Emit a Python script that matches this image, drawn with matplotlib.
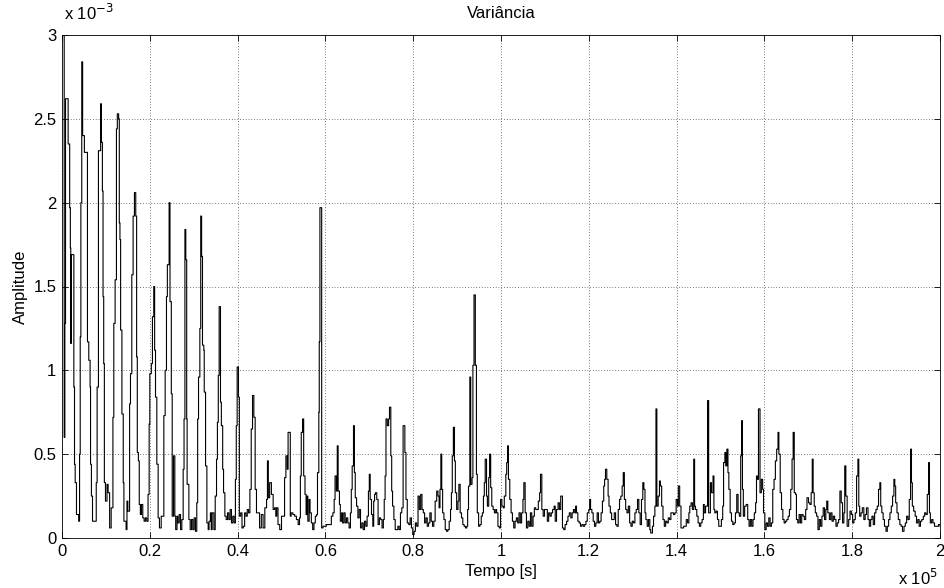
import numpy as np
import matplotlib.pyplot as plt

plt.rcParams['font.family'] = ['Liberation Sans', 'DejaVu Sans']
plt.rcParams['font.size'] = 12

# tempo em kilo-segundos, variancia em unidades de 1e-3
tempo_ks = [
    0.0, 0.5, 0.65, 0.8, 1.25, 1.4, 1.75, 1.9, 2.0, 2.1, 2.4, 2.7, 2.85, 3.0, 3.3, 3.6, 3.8,
    4.0, 4.15, 4.3, 4.5, 4.7, 4.95, 5.1, 5.8, 6.1, 6.4, 6.5, 6.7, 6.95, 7.45, 7.8,
    8.0, 8.3, 8.8, 8.95, 9.2, 9.35, 9.5, 9.65, 9.9, 10.25, 10.5, 10.85, 11.2, 11.6,
    11.8, 12.1, 12.4, 12.6, 12.9, 13.05, 13.2, 13.35, 13.65, 13.95, 14.1, 14.6, 14.8,
    15.0, 15.4, 15.6, 15.9, 16.2, 16.5, 16.8, 17.0, 17.15, 17.4, 17.6, 17.85, 18.1,
    18.4, 18.7, 19.0, 19.3, 19.6, 19.85, 20.0, 20.35, 20.6, 20.9, 21.1, 21.3, 21.6,
    21.9, 22.2,
    22.6, 23.0, 23.2, 23.5, 23.8, 24.0, 24.4, 24.6, 24.9, 25.1, 25.4, 25.7, 25.9, 26.2,
    26.4, 26.7, 27.0, 27.3, 27.6, 27.8, 28.0, 28.2, 28.4, 28.5, 28.9, 29.2, 29.5, 29.8,
    30.1, 30.4, 30.7, 30.9, 31.1, 31.4, 31.6, 31.8, 32.0, 32.3, 32.4, 32.7, 33.0, 33.3,
    33.5, 33.8, 34.0, 34.2, 34.6, 34.9, 35.2, 35.4, 35.6, 35.8, 36.1, 36.3, 36.6, 36.8,
    37.1, 37.4, 37.7, 38.0, 38.3, 38.6, 38.9, 39.2, 39.5, 39.7, 39.9, 40.2, 40.4, 40.7,
    41.0, 41.3, 41.6, 41.9, 42.2, 42.5, 42.8, 43.1, 43.4, 43.7, 44.0, 44.3,
    44.65, 45.0, 45.4, 45.8, 46.2, 46.6, 46.8, 47.0, 47.3, 47.7, 48.1, 48.4, 48.7, 48.9,
    49.2, 49.6, 50.0, 50.3, 50.7, 51.0, 51.3, 51.5, 51.7, 52.0, 52.2, 52.6, 53.0, 53.4,
    53.8, 54.1, 54.3, 54.5, 54.8, 55.05, 55.35, 55.6, 55.8, 56.0, 56.3, 56.5, 56.8, 57.1,
    57.4, 57.7, 58.0, 58.2, 58.5, 58.6, 58.75, 59.15, 59.45, 59.8, 60.2, 60.6, 61.0,
    61.35, 61.7, 62.0, 62.2, 62.5, 62.7, 62.9, 63.2, 63.4, 63.7, 63.9, 64.2, 64.5, 64.8,
    65.1, 65.4, 65.7, 65.9, 66.1, 66.4, 66.6, 66.8, 67.1, 67.4, 67.7, 68.0, 68.3, 68.6,
    68.9, 69.2, 69.5, 69.8, 70.0, 70.2, 70.5, 70.8, 71.0, 71.2, 71.4, 71.7, 72.0, 72.3,
    72.6, 72.9, 73.2, 73.4, 73.6, 73.8, 74.1, 74.4, 74.6, 74.9, 75.1, 75.3, 75.6, 75.9,
    76.2, 76.5, 76.8, 77.1, 77.4, 77.7, 77.9, 78.1, 78.35, 78.65, 79.0, 79.3, 79.6, 79.9,
    80.2, 80.5, 80.8,
    81.1, 81.4, 81.7, 82.0, 82.3, 82.6, 82.9, 83.2, 83.5, 83.8, 84.1, 84.4, 84.7, 85.0,
    85.35, 85.65, 85.9, 86.1, 86.3, 86.5, 86.7, 87.0, 87.3, 87.6, 87.9, 88.2, 88.5, 88.7,
    88.9, 89.15, 89.4, 89.6, 89.9, 90.2, 90.4, 90.7, 91.0, 91.3, 91.6, 91.9, 92.2, 92.4,
    92.6, 92.9, 93.1, 93.4, 93.6, 93.85, 94.15, 94.4, 94.6, 94.9, 95.2, 95.5, 95.75,
    96.0, 96.2, 96.4, 96.7, 96.9, 97.2, 97.4, 97.65, 97.9, 98.2, 98.5, 98.8, 99.0, 99.3,
    99.6, 99.9, 100.2, 100.5, 100.75, 101.1, 101.3, 101.5, 101.7, 102.0, 102.3, 102.6,
    102.9, 103.2, 103.5, 103.8, 104.1, 104.4, 104.7, 105.0, 105.2, 105.5, 105.8, 106.1,
    106.4, 106.7, 107.0, 107.3, 107.6, 107.9, 108.2, 108.5, 108.8, 109.0, 109.3, 109.6,
    109.9, 110.2, 110.55, 110.85, 111.15, 111.45, 111.75, 112.1, 112.35, 112.65, 113.0,
    113.3, 113.6, 113.8, 114.0, 114.3, 114.6, 114.95, 115.25, 115.55, 115.9, 116.2,
    116.5, 116.8, 117.0, 117.2, 117.5, 117.8, 118.1, 118.4, 118.75, 119.05, 119.35,
    119.65, 120.0, 120.2, 120.4, 120.7, 121.0, 121.3, 121.6, 121.9, 122.2, 122.5, 122.8,
    123.1, 123.4, 123.6, 123.8, 124.1, 124.4, 124.6, 124.9, 125.2, 125.5, 125.8, 126.1,
    126.4, 126.7, 127.0, 127.3, 127.6, 127.85, 128.1, 128.4, 128.7, 129.0, 129.3, 129.6,
    129.9, 130.2, 130.5, 130.8, 131.1, 131.4,
    131.7, 132.0, 132.3, 132.55, 132.8, 133.0, 133.3, 133.6, 133.9, 134.1, 134.5, 134.75,
    135.05, 135.3, 135.5, 135.8, 136.1, 136.3, 136.6, 136.9, 137.2, 137.5, 137.8, 138.1,
    138.4, 138.7, 139.0, 139.3, 139.6, 139.9, 140.2, 140.4, 140.7, 141.0, 141.3, 141.6,
    141.9, 142.2, 142.5, 142.8, 143.0, 143.3, 143.6, 143.9, 144.1, 144.3, 144.6, 144.9,
    145.2, 145.5, 145.8, 146.1, 146.3, 146.6, 146.8, 147.05, 147.3, 147.5, 147.7, 147.95,
    148.3, 148.5, 148.7, 149.0, 149.3, 149.6, 149.9, 150.2, 150.5, 150.7, 151.0, 151.2,
    151.45, 151.7, 151.9, 152.2, 152.5, 152.8, 153.1, 153.4, 153.7, 154.0, 154.3, 154.6,
    154.8, 155.0, 155.2, 155.5, 155.85, 156.2, 156.5, 156.8, 157.1, 157.4, 157.7, 158.0,
    158.2, 158.4, 158.65, 159.0, 159.3, 159.6, 159.8, 160.1, 160.4, 160.7, 161.0, 161.3,
    161.6, 161.9, 162.2, 162.5, 162.8, 163.1, 163.3, 163.6, 163.9, 164.2, 164.5, 164.8,
    165.1, 165.4, 165.7, 166.0, 166.3, 166.55, 166.8,
    167.1, 167.3, 167.6, 167.9, 168.2, 168.5, 168.8, 169.1, 169.4, 169.7, 170.05, 170.35,
    170.65, 170.9, 171.1, 171.35, 171.6, 171.9, 172.2, 172.5, 172.8, 173.1, 173.4, 173.7,
    174.0, 174.2, 174.45, 174.8, 175.1, 175.4, 175.7, 176.0, 176.3, 176.6, 176.9, 177.2,
    177.5, 177.8, 178.1, 178.3, 178.55, 178.85, 179.2, 179.5, 179.8, 180.1, 180.4, 180.7,
    181.0, 181.3, 181.5, 181.7, 182.0, 182.3, 182.65, 182.95, 183.25, 183.6, 183.9, 184.2,
    184.5, 184.8, 185.1, 185.4, 185.7, 186.0, 186.3, 186.5, 186.75, 187.05, 187.35, 187.7,
    188.0, 188.3, 188.6, 188.9, 189.2, 189.5, 189.7, 189.9, 190.2, 190.5, 190.85, 191.15,
    191.45, 191.8, 192.1, 192.4, 192.7, 193.0, 193.3, 193.5, 193.7, 194.0, 194.35, 194.65,
    194.95, 195.25, 195.55, 195.85, 196.2, 196.5, 196.8, 197.1, 197.4, 197.6, 197.8,
    198.1, 198.4, 198.75, 199.05, 199.35, 199.65, 200.0,
]

variancia = [
    3.1, 0.6, 1.28, 2.62, 2.62, 2.35, 1.97, 1.73, 1.16, 1.69, 1.69, 0.9, 0.44, 0.33, 0.14, 0.14, 0.1,
    0.5, 1.2, 2.0, 2.84, 2.4, 2.4, 2.3, 1.17, 1.06, 0.9, 0.44, 0.25, 0.1, 0.1, 0.33,
    0.9, 2.31, 2.59, 2.36, 2.07, 1.44, 1.04, 0.33, 0.22, 0.32, 0.27, 0.06, 0.18, 0.72,
    1.28, 1.54, 2.44, 2.53, 2.5, 1.88, 1.78, 1.24, 0.74, 0.33, 0.1, 0.05, 0.22,
    0.16, 0.8, 0.98, 1.57, 1.92, 2.06, 1.92, 1.08, 0.51, 0.46, 0.2, 0.14, 0.2,
    0.12, 0.1, 0.12, 0.1, 0.26, 0.68, 0.98, 1.04, 1.32, 1.5, 1.12, 0.84, 0.44,
    0.12, 0.06,
    0.13, 0.13, 0.73, 1.0, 1.44, 1.63, 2.0, 1.41, 0.86, 0.13, 0.49, 0.13, 0.05, 0.13,
    0.09, 0.14, 0.05, 0.11, 0.41, 0.71, 1.84, 1.66, 0.71, 0.32, 0.11, 0.05, 0.11, 0.05,
    0.12, 0.04, 0.21, 0.71, 0.96, 1.25, 1.92, 1.68, 1.15, 1.12, 0.87, 0.43, 0.09, 0.05,
    0.1, 0.15, 0.05, 0.15, 0.05, 0.25, 0.47, 0.69, 0.97, 1.38, 0.81, 0.67, 0.41, 0.27,
    0.13, 0.11, 0.15, 0.11, 0.17, 0.09, 0.13, 0.09, 0.35, 0.67, 1.02, 0.84, 0.13, 0.15,
    0.06, 0.07, 0.15, 0.13, 0.17, 0.15, 0.29, 0.65, 0.85, 0.72, 0.29, 0.15,
    0.15, 0.06, 0.14, 0.06, 0.18, 0.23, 0.46, 0.24, 0.33, 0.26, 0.17, 0.18, 0.13, 0.18,
    0.08, 0.05, 0.13, 0.13, 0.36, 0.49, 0.41, 0.63, 0.63, 0.13, 0.15, 0.14, 0.13, 0.11,
    0.08, 0.12, 0.37, 0.63, 0.71, 0.37, 0.26, 0.14, 0.25, 0.1, 0.23, 0.15, 0.09, 0.05,
    0.09, 0.13, 0.14, 0.39, 0.75, 1.17, 1.97, 0.06, 0.07, 0.07, 0.08, 0.08, 0.08,
    0.13, 0.15, 0.23, 0.37, 0.28, 0.55, 0.28, 0.2, 0.1, 0.15, 0.09, 0.15, 0.09, 0.12,
    0.09, 0.06, 0.15, 0.29, 0.43, 0.67, 0.39, 0.24, 0.19, 0.12, 0.17, 0.06, 0.09, 0.05,
    0.1, 0.07, 0.13, 0.28, 0.38, 0.23, 0.14, 0.07, 0.22, 0.26, 0.27, 0.23, 0.08, 0.12,
    0.11, 0.06, 0.11, 0.23, 0.37, 0.71, 0.67, 0.71, 0.78, 0.49, 0.28, 0.19, 0.11, 0.05,
    0.05, 0.07, 0.05, 0.15, 0.18, 0.67, 0.67, 0.51, 0.23, 0.09, 0.08, 0.12, 0.06, 0.02,
    0.04, 0.09, 0.07,
    0.25, 0.17, 0.26, 0.17, 0.15, 0.09, 0.12, 0.07, 0.09, 0.15, 0.1, 0.07, 0.1, 0.22,
    0.28, 0.25, 0.18, 0.29, 0.5, 0.29, 0.15, 0.11, 0.05, 0.04, 0.05, 0.1, 0.17, 0.27,
    0.49, 0.66, 0.46, 0.27, 0.17, 0.22, 0.32, 0.15, 0.12, 0.08, 0.07, 0.06, 0.07, 0.17,
    0.31, 0.96, 0.32, 0.36, 1.03, 1.45, 1.03, 0.38, 0.15, 0.07, 0.08, 0.13, 0.15,
    0.25, 0.33, 0.47, 0.25, 0.19, 0.36, 0.5, 0.3, 0.19, 0.17, 0.15, 0.17, 0.15, 0.07,
    0.06, 0.23, 0.19, 0.18, 0.25, 0.38, 0.45, 0.55, 0.35, 0.23, 0.15, 0.1,
    0.06, 0.1, 0.12, 0.09, 0.15, 0.09, 0.15, 0.23, 0.33, 0.15, 0.06, 0.1,
    0.07, 0.15, 0.07, 0.13, 0.18, 0.17, 0.17, 0.22, 0.27, 0.38, 0.17, 0.13,
    0.17, 0.17, 0.1, 0.15, 0.13, 0.15, 0.17, 0.19, 0.1, 0.17, 0.21,
    0.17, 0.25, 0.25, 0.06, 0.05, 0.08, 0.1, 0.13, 0.15, 0.12, 0.15,
    0.17, 0.15, 0.19, 0.15, 0.1, 0.09, 0.07, 0.08, 0.07, 0.08, 0.1,
    0.15, 0.17, 0.23, 0.17, 0.15, 0.1, 0.07, 0.09, 0.15, 0.09, 0.1, 0.15,
    0.22, 0.31, 0.35, 0.41, 0.35, 0.25, 0.19, 0.15, 0.11, 0.11, 0.15, 0.08,
    0.07, 0.17, 0.23, 0.25, 0.31, 0.39, 0.23, 0.17, 0.15, 0.19, 0.09, 0.07,
    0.1, 0.09, 0.15, 0.17, 0.23, 0.15,
    0.08, 0.23, 0.33, 0.29, 0.15, 0.11, 0.07, 0.11, 0.05, 0.03, 0.07, 0.13,
    0.19, 0.77, 0.19, 0.25, 0.34, 0.31, 0.19, 0.11, 0.07, 0.1, 0.09, 0.12,
    0.11, 0.15, 0.15, 0.14, 0.15, 0.23, 0.19, 0.31, 0.19, 0.06, 0.06, 0.07,
    0.07, 0.11, 0.09, 0.15, 0.19, 0.21, 0.17, 0.47, 0.19, 0.17, 0.13, 0.09,
    0.07, 0.09, 0.11, 0.2, 0.15, 0.19, 0.19, 0.82, 0.15, 0.15, 0.33, 0.27,
    0.37, 0.17, 0.15, 0.16, 0.11, 0.07, 0.07, 0.11, 0.19, 0.45, 0.51, 0.43,
    0.53, 0.39, 0.29, 0.15, 0.1, 0.08, 0.09, 0.15, 0.26, 0.15, 0.13, 0.49,
    0.7, 0.29, 0.13, 0.19, 0.2, 0.11, 0.07, 0.11, 0.07, 0.11, 0.15, 0.21,
    0.37, 0.35, 0.77, 0.27, 0.35, 0.29, 0.15, 0.05, 0.09, 0.07, 0.12, 0.07,
    0.09, 0.29, 0.35, 0.46, 0.53, 0.63, 0.5, 0.27, 0.17, 0.11, 0.09, 0.1,
    0.11, 0.13, 0.17, 0.29, 0.47, 0.63, 0.27,
    0.26, 0.11, 0.09, 0.14, 0.09, 0.14, 0.13, 0.11, 0.17, 0.24, 0.21, 0.2,
    0.27, 0.47, 0.27, 0.19, 0.15, 0.13, 0.05, 0.11, 0.07, 0.13, 0.18, 0.11,
    0.17, 0.22, 0.15, 0.11, 0.15, 0.1, 0.13, 0.11, 0.07, 0.09, 0.11, 0.28,
    0.21, 0.09, 0.15, 0.43, 0.25, 0.07, 0.11, 0.16, 0.14, 0.09, 0.11, 0.15,
    0.37, 0.47, 0.19, 0.13, 0.15, 0.18, 0.11, 0.14, 0.18, 0.11, 0.07, 0.11,
    0.13, 0.08, 0.15, 0.17, 0.19, 0.29, 0.33, 0.19, 0.15, 0.11, 0.07, 0.04,
    0.07, 0.11, 0.15, 0.19, 0.25, 0.35, 0.31, 0.21, 0.15, 0.11, 0.08, 0.07,
    0.04, 0.07, 0.09, 0.13, 0.11, 0.23, 0.53, 0.33, 0.19, 0.16, 0.13, 0.09,
    0.11, 0.07, 0.1, 0.11, 0.13, 0.15, 0.14, 0.26, 0.45, 0.15, 0.09,
    0.11, 0.09, 0.07, 0.07, 0.07, 0.08, 0.07,
]

xticks_ks = [0, 20, 40, 60, 80, 100, 120, 140, 160, 180, 200]
xtick_labels = ['0', '0.2', '0.4', '0.6', '0.8', '1', '1.2', '1.4', '1.6', '1.8', '2']
yticks = [0, 0.5, 1, 1.5, 2, 2.5, 3]
ytick_labels = ['0', '0.5', '1', '1.5', '2', '2.5', '3']

fig = plt.figure(figsize=(9.45, 5.88), dpi=100)
ax = fig.add_axes([62 / 945, 50 / 588, 878 / 945, 503 / 588])

ax.plot(tempo_ks, variancia, color='k', lw=0.8, drawstyle='steps-post')

ax.set_xlim(0, 200)
ax.set_ylim(0, 3)
ax.set_xticks(xticks_ks)
ax.set_xticklabels(xtick_labels)
ax.set_yticks(yticks)
ax.set_yticklabels(ytick_labels)

ax.grid(True, color='k', linestyle=(0, (1, 3)), linewidth=0.5)
ax.tick_params(direction='in', top=True, right=True, length=4, width=0.6,
               labelsize=12)
ax.tick_params(axis='x', pad=4)
ax.tick_params(axis='y', pad=4)
for sp in ax.spines.values():
    sp.set_linewidth(0.6)

ax.set_title('Variância', fontsize=12, pad=12)
ax.set_xlabel('Tempo [s]', fontsize=12, labelpad=4)
ax.set_ylabel('Amplitude', fontsize=12, labelpad=4)

# multiplicadores dos eixos no estilo MATLAB
fig.text(64 / 945, 1 - 20 / 588, r'x 10$^{-3}$', fontsize=12)
fig.text(898 / 945, 1 - 585 / 588, r'x 10$^{5}$', fontsize=12)

fig.savefig('out.png', dpi=100)
